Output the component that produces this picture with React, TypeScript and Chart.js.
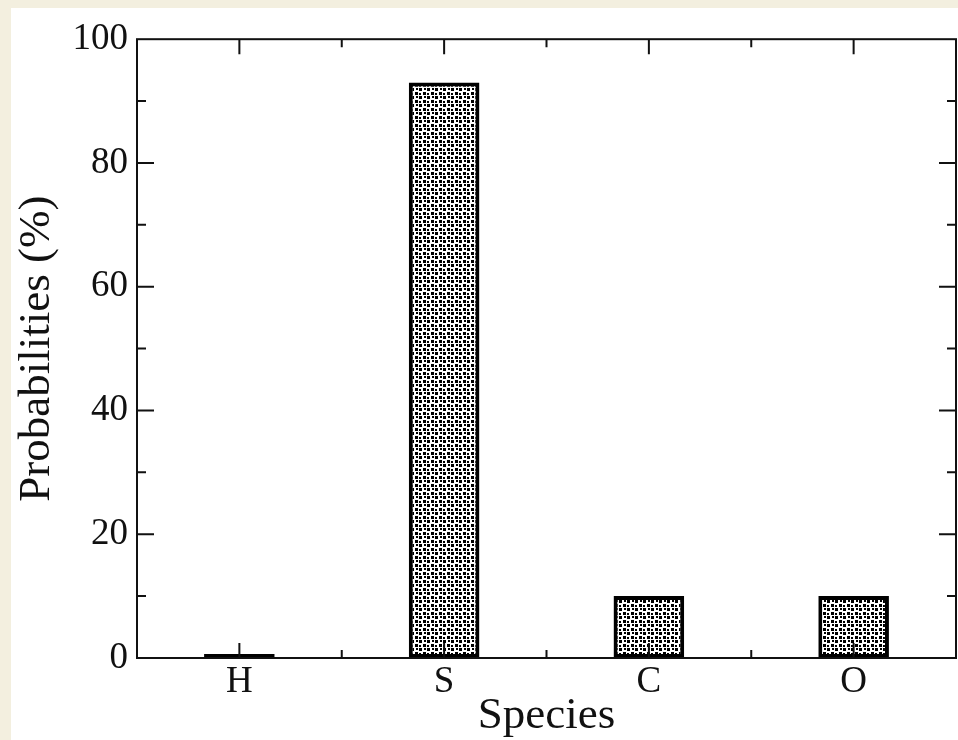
import React, { useEffect, useRef } from "react";
import { Chart, registerables } from "chart.js";

Chart.register(...registerables);

const categories = ["H", "S", "C", "O"];
const probabilities = [0, 93, 10, 10];
const yTicks = [0, 20, 40, 60, 80, 100];
const yTitle = "Probabilities (%)";
const xTitle = "Species";

function makePattern(ctx: CanvasRenderingContext2D) {
  const c = document.createElement("canvas");
  c.width = 8;
  c.height = 8;
  const g = c.getContext("2d")!;
  g.fillStyle = "#ffffff";
  g.fillRect(0, 0, 8, 8);
  g.fillStyle = "#000000";
  g.fillRect(0, 0, 3, 3);
  g.fillRect(4, 4, 3, 3);
  g.fillRect(5, 0, 2, 2);
  g.fillRect(0, 5, 2, 2);
  return ctx.createPattern(c, "repeat");
}

const framePlugin = {
  id: "frame",
  afterDatasetsDraw(chart: any) {
    const { ctx, chartArea: a, scales } = chart;
    const xs = scales.x;
    const ys = scales.y;
    ctx.save();
    ctx.strokeStyle = "#111";
    ctx.lineWidth = 2;
    ctx.strokeRect(a.left, a.top, a.right - a.left, a.bottom - a.top);
    ctx.beginPath();
    for (let i = 0; i < yTicks.length; i++) {
      const v = yTicks[i];
      const py = ys.getPixelForValue(v);
      if (i > 0 && i < yTicks.length - 1) {
        ctx.moveTo(a.left, py);
        ctx.lineTo(a.left + 17, py);
        ctx.moveTo(a.right, py);
        ctx.lineTo(a.right - 17, py);
      }
      if (i < yTicks.length - 1) {
        const pm = ys.getPixelForValue((v + yTicks[i + 1]) / 2);
        ctx.moveTo(a.left, pm);
        ctx.lineTo(a.left + 9, pm);
        ctx.moveTo(a.right, pm);
        ctx.lineTo(a.right - 9, pm);
      }
    }
    for (let i = 0; i < categories.length; i++) {
      const px = xs.getPixelForValue(i);
      ctx.moveTo(px, a.bottom);
      ctx.lineTo(px, a.bottom - 15);
      ctx.moveTo(px, a.top);
      ctx.lineTo(px, a.top + 15);
      if (i < categories.length - 1) {
        const pm = (px + xs.getPixelForValue(i + 1)) / 2;
        ctx.moveTo(pm, a.bottom);
        ctx.lineTo(pm, a.bottom - 8);
        ctx.moveTo(pm, a.top);
        ctx.lineTo(pm, a.top + 8);
      }
    }
    ctx.stroke();
    ctx.restore();
  },
};

export default function App() {
  const ref = useRef<HTMLCanvasElement>(null);
  useEffect(() => {
    const canvas = ref.current!;
    const ctx = canvas.getContext("2d")!;
    const pattern = makePattern(ctx);
    const font = "'Liberation Serif', 'Times New Roman', serif";
    const chart = new Chart(canvas, {
      type: "bar",
      data: {
        labels: categories,
        datasets: [
          {
            data: probabilities,
            backgroundColor: pattern as any,
            borderColor: "#000",
            borderWidth: 4,
            borderSkipped: false,
            minBarLength: 4,
            categoryPercentage: 1,
            barPercentage: 0.345,
          },
        ],
      },
      options: {
        responsive: false,
        animation: false,
        devicePixelRatio: 1,
        layout: { padding: { top: 30, right: 2, left: 0, bottom: 0 } },
        plugins: { legend: { display: false }, tooltip: { enabled: false } },
        scales: {
          x: {
            type: "category",
            offset: true,
            grid: { display: false, drawTicks: false },
            border: { display: false },
            ticks: { color: "#111", font: { family: font, size: 37 }, padding: 2, maxRotation: 0 },
            title: {
              display: true,
              text: xTitle,
              color: "#111",
              font: { family: font, size: 45 },
              padding: { top: 0, bottom: -3 },
            },
            afterFit: (s: any) => {
              s.height = 82;
            },
          },
          y: {
            min: 0,
            max: 100,
            afterBuildTicks: (s: any) => {
              s.ticks = yTicks.map((v) => ({ value: v }));
            },
            grid: { display: false, drawTicks: false },
            border: { display: false },
            ticks: { color: "#111", font: { family: font, size: 37 }, padding: 9 },
            title: {
              display: true,
              text: yTitle,
              color: "#111",
              font: { family: font, size: 45 },
              padding: { top: -1, bottom: 0 },
            },
            afterFit: (s: any) => {
              s.width = 126;
            },
          },
        },
      },
      plugins: [framePlugin],
    });
    return () => chart.destroy();
  }, []);
  return (
    <div style={{ position: "fixed", left: 0, top: 0, width: 958, height: 740, background: "#f3efdf" }}>
      <canvas
        ref={ref}
        width={947}
        height={732}
        style={{ position: "absolute", left: 11, top: 8, width: 947, height: 732, background: "#fff" }}
      />
    </div>
  );
}
